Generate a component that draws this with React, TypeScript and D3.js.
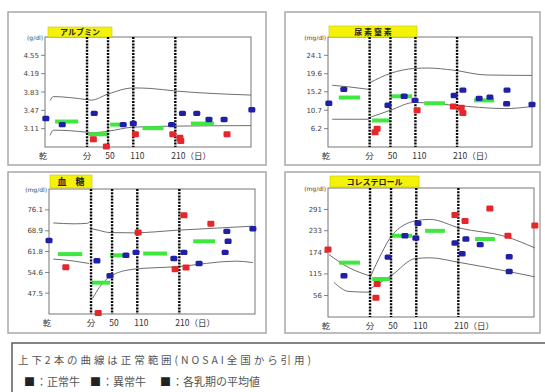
import React from "react";
import * as d3 from "d3";

type Pt = [number, number];
type Bar = [number, number, number];

// x axis: days relative to calving (dry period drawn left of 0)
const X_DOMAIN: [number, number] = [-100, 390];
const vLineDays = [0, 50, 110, 210];
const xLabelDays = [-100, 0, 50, 110, 210];
const xLabelTexts = ["乾", "分", "50", "110", "210（日）"];

// ---- アルブミン ----
const albTitle = "アルブミン";
const albUnit = "(g/dl)";
const albDomain: [number, number] = [2.75, 4.91];
const albTicks = [3.11, 3.47, 3.83, 4.19, 4.55];
const albNormal: Pt[] = [[-98, 3.31], [-59, 3.19], [17, 3.41], [86, 3.19], [110, 3.21], [201, 3.19], [227, 3.41], [261, 3.41], [290, 3.29], [326, 3.29], [392, 3.48]];
const albAbnormal: Pt[] = [[15, 2.9], [46, 2.76], [115, 3.0], [204, 3.0], [221, 2.93], [223, 2.87], [333, 3.0]];
const albMeans: Bar[] = [[-76, -21, 3.25], [3, 51, 3.0], [55, 79, 3.19], [132, 182, 3.12], [247, 302, 3.21]];
const albUpper: Pt[][] = [[[-88, 3.66], [-80, 3.74], [-40, 3.72], [0, 3.68], [10, 3.67], [50, 3.79], [110, 3.91], [150, 3.9], [210, 3.85], [390, 3.77]]];
const albLower: Pt[][] = [[[-88, 2.98], [-80, 3.08], [-40, 3.07], [0, 3.04], [15, 3.03], [50, 3.06], [110, 3.14], [210, 3.16], [390, 3.17]]];

// ---- 尿素窒素 ----
const bunTitle = "尿 素 窒 素";
const bunUnit = "(mg/dl)";
const bunDomain: [number, number] = [1.725, 28.575];
const bunTicks = [6.2, 10.7, 15.2, 19.6, 24.1];
const bunNormal: Pt[] = [[-98, 12.4], [-62, 15.8], [44, 11.9], [83, 14.1], [109, 13.1], [203, 14.3], [224, 15.6], [263, 13.6], [289, 13.9], [330, 15.6], [329, 12.3], [390, 12.1]];
const bunAbnormal: Pt[] = [[18, 6.2], [13, 5.3], [114, 10.7], [201, 11.6], [220, 11.3], [224, 10.0]];
const bunMeans: Bar[] = [[-74, -23, 13.8], [6, 49, 8.2], [51, 102, 14.1], [131, 181, 12.4], [251, 299, 13.1]];
const bunUpper: Pt[][] = [[[-90, 16.8], [-50, 16.4], [-2, 15.8]], [[2, 17.5], [50, 19.7], [108, 20.9], [140, 21.0], [200, 20.5], [280, 19.3], [390, 19.2]]];
const bunLower: Pt[][] = [[[-90, 8.5], [-2, 8.5]], [[2, 9.0], [50, 10.7], [108, 12.6], [203, 11.9], [325, 11.1], [390, 11.6]]];

// ---- 血糖 ----
const gluTitle = "血　糖";
const gluUnit = "(mg/dl)";
const gluDomain: [number, number] = [40.35, 83.25];
const gluTicks = [47.5, 54.6, 61.8, 68.9, 76.1];
const gluNormal: Pt[] = [[-100, 65.6], [14, 58.6], [45, 53.5], [83, 60.5], [107, 61.5], [197, 59.4], [221, 61.5], [257, 57.7], [323, 68.7], [326, 65.3], [319, 61.5], [385, 69.6]];
const gluAbnormal: Pt[] = [[-60, 56.4], [17, 40.7], [112, 68.3], [200, 55.7], [221, 74.2], [226, 56.3], [285, 71.3]];
const gluMeans: Bar[] = [[-79, -21, 60.9], [2, 45, 51.1], [45, 81, 60.5], [124, 181, 61.1], [243, 295, 65.3]];
const gluUpper: Pt[][] = [[[-90, 71.6], [-40, 71.3], [-8, 71.5], [-2, 72.3]], [[2, 69.6], [20, 69.0], [45, 68.3], [100, 68.2], [205, 69.1], [385, 70.5]]];
const gluLower: Pt[][] = [[[-90, 59.2], [-40, 58.5], [-5, 57.7]], [[4, 45.8], [20, 49.5], [45, 53.2], [100, 55.7], [205, 56.6], [345, 58.5], [385, 58.0]]];

// ---- コレステロール ----
const choTitle = "コレステロール";
const choUnit = "(mg/dl)";
const choDomain: [number, number] = [-2.75, 349.75];
const choTicks = [56, 115, 174, 233, 291];
const choNormal: Pt[] = [[-62, 109.8], [43, 160.9], [83, 219.2], [109, 213], [114, 253.4], [202, 199.6], [219, 170], [228, 210.4], [262, 195], [331, 162], [331, 121.6]];
const choAbnormal: Pt[] = [[-100, 181.6], [17, 87.5], [14, 50], [202, 275.7], [226, 259.6], [285, 293.7], [328, 219.2], [392, 247]];
const choMeans: Bar[] = [[-74, -24, 145.8], [5, 48, 101], [48, 100, 219.2], [131, 178, 232.7], [250, 297, 210.4]];
const choUpper: Pt[][] = [[[-98, 168], [-50, 132], [-2, 110]], [[0, 105], [28, 172.7], [50, 217], [108, 260], [142, 264], [214, 240], [323, 217], [392, 186]]];
const choLower: Pt[][] = [[[-86, 92], [-50, 67], [-2, 65]], [[0, 74], [50, 110], [108, 157], [142, 159], [214, 146], [323, 123], [392, 107]]];

const legendNote = "上下2本の曲線は正常範囲(NOSAI全国から引用)";
const legendItems = ["：正常牛", "：異常牛", "：各乳期の平均値"];

const BLUE = "#1f1fa8";
const RED = "#e5262a";
const GREEN = "#3fe83f";
const JP = "'Noto Sans CJK JP', 'Noto Sans', sans-serif";

interface PanelCfg {
  title: string; unit: string; domain: [number, number]; ticks: number[];
  normal: Pt[]; abnormal: Pt[]; means: Bar[]; upper: Pt[][]; lower: Pt[][];
  frame: { x: number; y: number; w: number; h: number };
  plot: { x0: number; x1: number; y0: number; y1: number };
  tbox: { x: number; y: number; w: number; h: number };
}

const panels: PanelCfg[] = [
  { title: albTitle, unit: albUnit, domain: albDomain, ticks: albTicks, normal: albNormal, abnormal: albAbnormal, means: albMeans, upper: albUpper, lower: albLower,
    frame: { x: 8, y: 12, w: 258, h: 153 }, plot: { x0: 45, x1: 251, y0: 37, y1: 147 }, tbox: { x: 48, y: 27, w: 64, h: 10 } },
  { title: bunTitle, unit: bunUnit, domain: bunDomain, ticks: bunTicks, normal: bunNormal, abnormal: bunAbnormal, means: bunMeans, upper: bunUpper, lower: bunLower,
    frame: { x: 285, y: 12, w: 255, h: 153 }, plot: { x0: 328, x1: 532, y0: 37, y1: 147 }, tbox: { x: 329, y: 26, w: 88, h: 11 } },
  { title: gluTitle, unit: gluUnit, domain: gluDomain, ticks: gluTicks, normal: gluNormal, abnormal: gluAbnormal, means: gluMeans, upper: gluUpper, lower: gluLower,
    frame: { x: 8, y: 172, w: 258, h: 161 }, plot: { x0: 49, x1: 255, y0: 189, y1: 314 }, tbox: { x: 50, y: 175, w: 42, h: 13 } },
  { title: choTitle, unit: choUnit, domain: choDomain, ticks: choTicks, normal: choNormal, abnormal: choAbnormal, means: choMeans, upper: choUpper, lower: choLower,
    frame: { x: 285, y: 172, w: 255, h: 161 }, plot: { x0: 328, x1: 534, y0: 188, y1: 317 }, tbox: { x: 330, y: 176, w: 89, h: 11 } },
];

function Panel({ p }: { p: PanelCfg }) {
  const x = d3.scaleLinear().domain(X_DOMAIN).range([p.plot.x0, p.plot.x1]);
  const y = d3.scaleLinear().domain(p.domain).range([p.plot.y1, p.plot.y0]);
  const line = d3.line<Pt>().x((d) => x(d[0])).y((d) => y(d[1])).curve(d3.curveMonotoneX);
  const fmt = (v: number) => String(v);
  return (
    <g>
      <rect x={p.frame.x} y={p.frame.y} width={p.frame.w} height={p.frame.h} fill="#fff" stroke="#a8a8a8" strokeWidth={1.5} />
      <rect x={p.plot.x0} y={p.plot.y0} width={p.plot.x1 - p.plot.x0} height={p.plot.y1 - p.plot.y0} fill="#fff" stroke="#777" strokeWidth={1} />
      {/* title */}
      <rect x={p.tbox.x} y={p.tbox.y} width={p.tbox.w} height={p.tbox.h} fill="#f4f20a" stroke="#c9c400" strokeWidth={0.6} />
      <text x={p.tbox.x + p.tbox.w / 2} y={p.tbox.y + p.tbox.h / 2 + 3} textAnchor="middle" fontFamily={JP} fontSize={p.tbox.h >= 12 ? 9 : 8} fontWeight="bold" fill="#222">{p.title}</text>
      {/* y axis */}
      <text x={p.plot.x0 - 2} y={p.plot.y0 + 3} textAnchor="end" fontFamily="'DejaVu Sans', sans-serif" fontSize={6} fill="#444">{p.unit}</text>
      {p.ticks.map((t) => (
        <g key={t}>
          <line x1={p.plot.x0 - 4} x2={p.plot.x0} y1={y(t)} y2={y(t)} stroke="#666" strokeWidth={0.8} />
          <text x={p.plot.x0 - 6} y={y(t) + 2.5} textAnchor="end" fontFamily="'DejaVu Sans', sans-serif" fontSize={7} fill="#444">{fmt(t)}</text>
        </g>
      ))}
      {/* x labels */}
      {xLabelDays.map((d, i) => {
        const last = i === xLabelDays.length - 1;
        const dx = i === 0 ? -2 : i === 2 ? 2 : i === 3 ? 4 : last ? -4 : 0;
        return (
          <text key={d} x={x(d) + dx} y={p.plot.y1 + 12} textAnchor={last ? "start" : "middle"} fontFamily={JP} fontSize={8.5} fill="#333">{xLabelTexts[i]}</text>
        );
      })}
      {/* normal range curves */}
      {[...p.upper, ...p.lower].map((seg, i) => (
        <path key={i} d={line(seg) || ""} fill="none" stroke="#6e6e6e" strokeWidth={1} />
      ))}
      {/* period means */}
      {p.means.map((b, i) => (
        <rect key={i} x={x(b[0])} y={y(b[2]) - 2} width={x(b[1]) - x(b[0])} height={4} fill={GREEN} />
      ))}
      {/* period dividers */}
      {vLineDays.map((d) => (
        <line key={d} x1={x(d)} x2={x(d)} y1={p.plot.y0} y2={p.plot.y1} stroke="#000" strokeWidth={2.4} strokeDasharray="2 1.2" />
      ))}
      {p.abnormal.map((pt, i) => (
        <rect key={"r" + i} x={x(pt[0]) - 3.5} y={y(pt[1]) - 3} width={7} height={6} rx={1.2} fill={RED} />
      ))}
      {p.normal.map((pt, i) => (
        <rect key={"b" + i} x={x(pt[0]) - 3.5} y={y(pt[1]) - 2.7} width={7} height={5.4} rx={1.5} fill={BLUE} />
      ))}
    </g>
  );
}

export default function App() {
  const sqX = [24, 90, 160];
  return (
    <svg width={545} height={392} style={{ position: "absolute", left: 0, top: 0, background: "#fff" }}>
      <rect x={0} y={0} width={545} height={392} fill="#fff" />
      {panels.map((p, i) => <Panel key={i} p={p} />)}
      <rect x={12} y={343} width={545} height={60} fill="#fff" stroke="#666" strokeWidth={1.6} />
      <text x={18} y={364} fontFamily={JP} fontSize={10.5} fill="#555" textLength={293} lengthAdjust="spacing">{legendNote}</text>
      {legendItems.map((t, i) => (
        <g key={i}>
          <text x={sqX[i]} y={386} fontFamily={JP} fontSize={11} fill="#222">■</text>
          <text x={sqX[i] + 12} y={386} fontFamily={JP} fontSize={11} fill="#555">{t}</text>
        </g>
      ))}
    </svg>
  );
}
